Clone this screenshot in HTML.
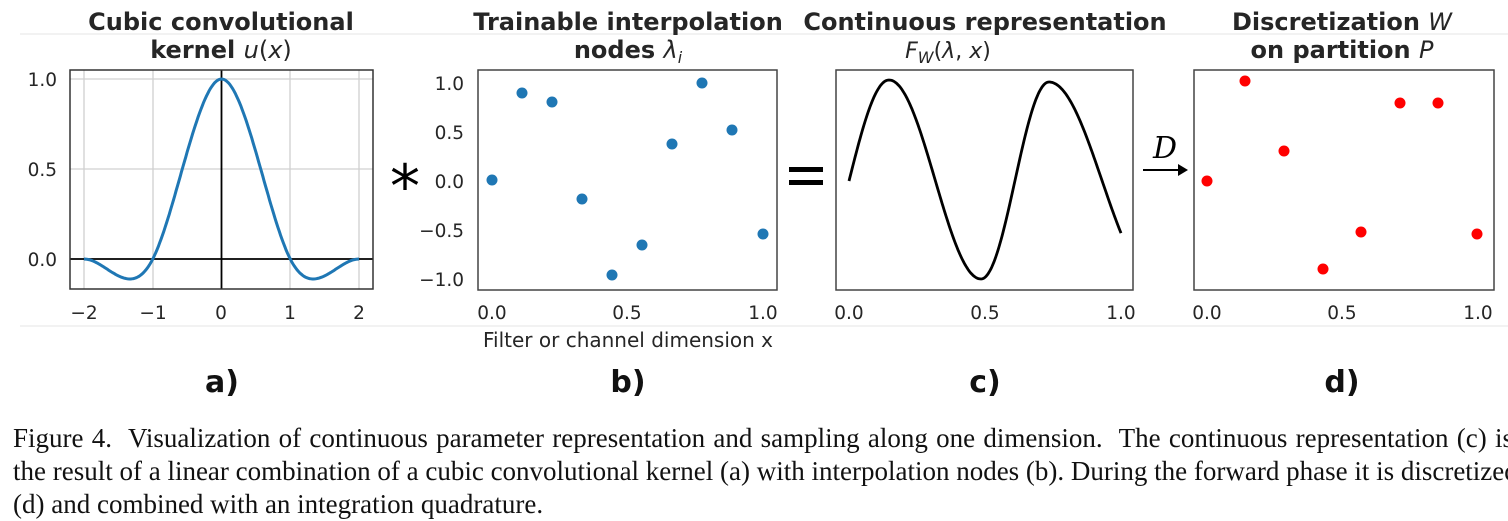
<!DOCTYPE html>
<html><head><meta charset="utf-8"><style>
body{margin:0;background:#fff;width:1508px;height:521px;overflow:hidden;position:relative}
.cap{position:absolute;left:13px;font-family:"Liberation Serif",serif;font-size:27px;line-height:31px;color:#111;white-space:nowrap}
</style></head><body>
<svg width="1508" height="521" style="position:absolute;left:0;top:0" font-family="DejaVu Sans, Liberation Sans, sans-serif">
<line x1="20" y1="34" x2="1508" y2="34" stroke="#e6e6e6"/>
<line x1="20" y1="326" x2="1508" y2="326" stroke="#e6e6e6"/>
<g fill="#262626" font-weight="bold" font-size="24" text-anchor="middle">
<text x="221" y="30">Cubic convolutional</text>
<text x="221" y="58">kernel <tspan font-weight="normal" font-style="italic">u</tspan><tspan font-weight="normal">(</tspan><tspan font-weight="normal" font-style="italic">x</tspan><tspan font-weight="normal">)</tspan></text>
<text x="628" y="30">Trainable interpolation</text>
<text x="628" y="58">nodes <tspan font-weight="normal" font-style="italic">λ<tspan font-size="16" dy="5">i</tspan></tspan></text>
<text x="985" y="30">Continuous representation</text>
<text x="1342" y="30">Discretization <tspan font-weight="normal" font-style="italic">W</tspan></text>
<text x="1342" y="58">on partition <tspan font-weight="normal" font-style="italic">P</tspan></text>
</g>
<text x="948" y="58" fill="#262626" font-size="22" text-anchor="middle" font-style="italic">F<tspan font-size="16" dy="5">W</tspan><tspan dy="-5" font-style="normal">(</tspan>λ<tspan font-style="normal">, </tspan>x<tspan font-style="normal">)</tspan></text>
<!-- panel a -->
<g stroke="#d0d0d0" stroke-width="1.3">
<line x1="84" y1="70" x2="84" y2="289"/><line x1="153" y1="70" x2="153" y2="289"/><line x1="290" y1="70" x2="290" y2="289"/><line x1="359" y1="70" x2="359" y2="289"/>
<line x1="70" y1="79" x2="373" y2="79"/><line x1="70" y1="169" x2="373" y2="169"/>
</g>
<line x1="221.5" y1="70" x2="221.5" y2="289" stroke="#000" stroke-width="1.8"/>
<line x1="70" y1="259" x2="373" y2="259" stroke="#000" stroke-width="1.8"/>
<path id="ka" fill="none" stroke="#1f77b4" stroke-width="3"/>
<rect x="70" y="70" width="303" height="219" fill="none" stroke="#333" stroke-width="1.5"/>
<g fill="#262626" font-size="18.5">
<g text-anchor="end"><text x="57" y="86">1.0</text><text x="57" y="176">0.5</text><text x="57" y="266">0.0</text></g>
<g text-anchor="middle"><text x="84" y="319">−2</text><text x="153" y="319">−1</text><text x="221" y="319">0</text><text x="290" y="319">1</text><text x="359" y="319">2</text></g>
</g>
<!-- panel b -->
<rect x="478" y="70" width="299" height="220" fill="none" stroke="#444" stroke-width="1.5"/>
<g fill="#1f77b4">
<circle cx="492" cy="180" r="5.5"/><circle cx="522" cy="93" r="5.5"/><circle cx="552" cy="102" r="5.5"/><circle cx="582" cy="199" r="5.5"/><circle cx="612" cy="275" r="5.5"/><circle cx="642" cy="245" r="5.5"/><circle cx="672" cy="144" r="5.5"/><circle cx="702" cy="83" r="5.5"/><circle cx="732" cy="130" r="5.5"/><circle cx="763" cy="234" r="5.5"/>
</g>
<g fill="#262626" font-size="18.5">
<g text-anchor="end"><text x="464" y="90">1.0</text><text x="464" y="139">0.5</text><text x="464" y="188">0.0</text><text x="464" y="237">−0.5</text><text x="464" y="286">−1.0</text></g>
<g text-anchor="middle"><text x="492" y="319">0.0</text><text x="627" y="319">0.5</text><text x="763" y="319">1.0</text>
<text x="628" y="347" font-size="20">Filter or channel dimension x</text></g>
</g>
<text x="405" y="207" font-size="60" text-anchor="middle" fill="#000">*</text>
<rect x="789" y="167" width="34" height="5" fill="#000"/><rect x="789" y="180" width="34" height="5" fill="#000"/>
<!-- panel c -->
<rect x="836" y="70" width="297" height="220" fill="none" stroke="#444" stroke-width="1.5"/>
<path id="cc" fill="none" stroke="#000" stroke-width="2.8"/>
<g fill="#262626" font-size="18.5" text-anchor="middle"><text x="849" y="319">0.0</text><text x="985" y="319">0.5</text><text x="1121" y="319">1.0</text></g>
<!-- arrow -->
<line x1="1143" y1="170" x2="1180" y2="170" stroke="#000" stroke-width="2"/>
<path d="M1178 164 L1188 170 L1178 176Z" fill="#000"/>
<text x="1165" y="158" font-family="DejaVu Serif, serif" font-style="italic" font-size="30" text-anchor="middle" fill="#000">D</text>
<!-- panel d -->
<rect x="1194" y="70" width="300" height="220" fill="none" stroke="#444" stroke-width="1.5"/>
<g fill="#f00">
<circle cx="1207" cy="181" r="5.5"/><circle cx="1245" cy="81" r="5.5"/><circle cx="1284" cy="151" r="5.5"/><circle cx="1323" cy="269" r="5.5"/><circle cx="1361" cy="232" r="5.5"/><circle cx="1400" cy="103" r="5.5"/><circle cx="1438" cy="103" r="5.5"/><circle cx="1477" cy="234" r="5.5"/>
</g>
<g fill="#262626" font-size="18.5" text-anchor="middle"><text x="1207" y="319">0.0</text><text x="1342" y="319">0.5</text><text x="1478" y="319">1.0</text></g>
<g fill="#111" font-size="30" font-weight="bold" text-anchor="middle">
<text x="222" y="392">a)</text><text x="628" y="392">b)</text><text x="985" y="392">c)</text><text x="1342" y="392">d)</text>
</g>
</svg>
<div class="cap" style="top:423px;word-spacing:1.5px">Figure 4.&nbsp; Visualization of continuous parameter representation and sampling along one dimension.&nbsp; The continuous representation (c) is</div>
<div class="cap" style="top:456px">the result of a linear combination of a cubic convolutional kernel (a) with interpolation nodes (b). During the forward phase it is discretized</div>
<div class="cap" style="top:489px">(d) and combined with an integration quadrature.</div>
<script>
(function(){
var a=-0.75,d="";
for(var i=0;i<=200;i++){var x=-2+4*i/200,t=Math.abs(x),u;
if(t<=1)u=(a+2)*t*t*t-(a+3)*t*t+1;else if(t<2)u=a*(t*t*t-5*t*t+8*t-4);else u=0;
d+=(i?"L":"M")+(221.5+68.75*x).toFixed(1)+" "+(259-180*u).toFixed(1);}
document.getElementById("ka").setAttribute("d",d);
var pts=[[849,181],[889,80],[981,279],[1049,82],[1155,279]];
var c="M849 181";
for(var x=849;x<=1121;x++){var y;
if(x<=889){var t=(x-849)/40;y=181-101*Math.sin(t*Math.PI/2);}
else{for(var k=1;k<4;k++){if(x<=pts[k+1][0]){var x0=pts[k][0],x1=pts[k+1][0],y0=pts[k][1],y1=pts[k+1][1];var t=(x-x0)/(x1-x0);y=y0+(y1-y0)*(1-Math.cos(Math.PI*t))/2;break;}}}
c+="L"+x+" "+y.toFixed(1);}
document.getElementById("cc").setAttribute("d",c);
})();
</script>
</body></html>
